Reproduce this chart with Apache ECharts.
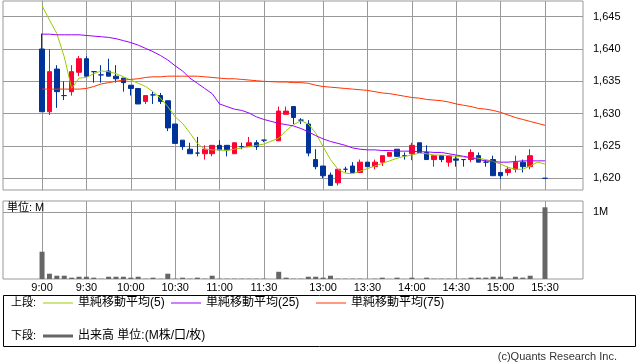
<!DOCTYPE html>
<html><head><meta charset="utf-8">
<script src="https://cdn.jsdelivr.net/npm/echarts@6/dist/echarts.min.js"></script>
<style>html,body{margin:0;padding:0;background:#fff}#c{width:638px;height:362px}</style>
</head><body><div id="c"></div>
<script>
// slot index: 0 = 9:00 (5-minute bars), 31 = lunch gap, 32 = 12:30, 67 = 15:25 (no trade), 68 = 15:30
const tickSlots  = [0, 6, 12, 18, 24, 30, 38, 44, 50, 56, 62, 68];
const tickLabels = ['9:00','9:30','10:00','10:30','11:00','11:30','13:00','13:30','14:00','14:30','15:00','15:30'];
const priceTicks = [1620, 1625, 1630, 1635, 1640, 1645];
const volumeTicks = [1];

const openP = [1640.0,1630.3,1636.9,1632.8,1633.4,1636.4,1638.5,1636.5,1636.0,1636.6,1635.8,1635.5,1634.4,1633.9,1631.9,1632.9,1632.8,1632.0,1628.4,1625.9,1624.5,1623.9,1623.8,1623.8,1625.1,1625.1,1623.8,1624.9,1624.9,1625.5,1625.9,null,
  1625.8,1629.9,1631.1,1629.0,1628.4,1622.9,1621.9,1620.5,1619.3,1621.4,1621.9,1620.9,1622.5,1621.8,1622.5,1623.4,1624.5,1623.5,1623.8,1625.5,1624.0,1622.9,1623.5,1622.5,1623.0,1622.9,1622.9,1623.5,1622.5,1622.9,1620.9,1620.9,1621.4,1622.5,1621.8,null,1620.0];
const closeP = [1630.3,1636.5,1633.4,1632.8,1636.5,1638.5,1635.8,1636.5,1636.0,1635.8,1635.4,1634.8,1633.9,1631.5,1632.8,1632.9,1631.9,1627.8,1625.4,1624.9,1623.8,1623.9,1624.5,1625.1,1624.4,1624.4,1625.5,1624.9,1625.5,1624.9,1625.9,null,
  1630.4,1630.4,1629.4,1629.0,1623.9,1621.8,1620.4,1618.9,1621.4,1621.4,1620.9,1622.5,1621.8,1622.5,1623.5,1624.0,1623.4,1623.5,1625.1,1624.0,1622.9,1623.5,1622.9,1623.5,1622.8,1622.9,1624.0,1622.5,1622.5,1620.4,1620.4,1621.4,1622.5,1621.8,1623.5,null,1620.0];
const lowP = [1630.3,1629.8,1630.9,1632.1,1632.8,1635.8,1635.8,1634.8,1634.8,1635.8,1634.8,1633.4,1632.8,1631.5,1631.5,1631.5,1631.5,1627.3,1625.4,1624.4,1623.8,1623.4,1622.9,1623.4,1624.4,1623.4,1623.8,1624.5,1624.9,1624.4,1625.6,null,
  1625.8,1629.9,1628.4,1628.4,1623.4,1621.4,1620.0,1618.9,1618.9,1620.9,1620.9,1620.9,1621.8,1621.4,1621.9,1623.4,1623.4,1622.9,1622.8,1624.0,1622.9,1621.8,1622.5,1621.8,1621.8,1621.8,1622.5,1622.5,1621.8,1620.4,1619.9,1620.4,1620.9,1620.9,1621.4,null,1620.0];
const highP = [1642.4,1640.0,1637.5,1635.0,1637.5,1638.9,1638.9,1636.5,1637.5,1638.5,1637.5,1635.5,1634.4,1633.9,1632.8,1633.4,1633.2,1632.0,1628.4,1625.9,1625.5,1626.4,1625.1,1625.1,1625.9,1625.1,1625.5,1625.5,1626.4,1625.9,1625.9,null,
  1631.1,1631.1,1631.1,1629.3,1629.0,1624.5,1621.9,1620.9,1621.4,1621.8,1622.5,1622.9,1622.5,1622.9,1623.5,1624.0,1624.5,1624.0,1625.5,1625.5,1625.1,1623.5,1623.5,1623.5,1623.5,1622.9,1624.5,1624.0,1622.9,1623.5,1620.9,1621.8,1623.5,1622.9,1624.5,null,1620.0];

const ma5 = [1646.7,1644.5,1642.4,1638.8,1633.9,1635.5,1635.6,1636.2,1636.6,1636.5,1636.2,1635.7,1635.2,1634.7,1634.2,1633.4,1632.4,1631.1,1629.5,1628.5,1627.0,1625.4,1624.5,1624.4,1624.4,1624.3,1624.5,1624.7,1624.9,1625.1,1625.3,null,
  1626.2,1627.4,1628.3,1628.9,1628.4,1627.0,1624.9,1622.9,1621.4,1620.8,1620.7,1621.1,1621.5,1621.9,1622.3,1622.7,1623.1,1623.4,1623.6,1623.9,1623.8,1623.6,1623.6,1623.5,1623.4,1623.3,1623.2,1623.1,1622.9,1622.6,1622.2,1621.7,1621.4,1621.4,1621.9,1622.5,1622.2];
const ma25 = [1642.3,1642.3,1642.2,1642.2,1642.2,1642.2,1642.1,1642.0,1641.9,1641.8,1641.6,1641.3,1641.0,1640.6,1640.1,1639.6,1639.0,1638.3,1637.4,1636.6,1635.5,1634.7,1633.9,1633.1,1631.5,1631.1,1630.7,1630.5,1630.1,1629.5,1629.1,null,
  1628.5,1628.3,1628.1,1627.7,1627.2,1626.6,1626.1,1625.7,1625.4,1625.1,1624.7,1624.5,1624.4,1624.4,1624.3,1624.3,1624.2,1624.2,1624.2,1624.1,1624.1,1624.0,1624.0,1623.8,1623.6,1623.4,1623.2,1622.9,1622.7,1622.6,1622.5,1622.5,1622.6,1622.7,1622.7,1622.7,1622.7];
const ma75 = [1633.8,1633.8,1633.8,1633.8,1633.8,1633.8,1633.9,1634.2,1634.6,1634.8,1635.0,1635.2,1635.3,1635.4,1635.6,1635.7,1635.7,1635.8,1635.8,1635.8,1635.8,1635.8,1635.7,1635.6,1635.5,1635.4,1635.4,1635.3,1635.2,1635.1,1635.0,null,
  1634.9,1634.9,1634.8,1634.8,1634.7,1634.4,1634.2,1634.1,1634.0,1633.9,1633.8,1633.7,1633.6,1633.4,1633.2,1633.1,1632.9,1632.7,1632.5,1632.4,1632.2,1632.1,1632.0,1631.8,1631.5,1631.3,1631.1,1630.8,1630.7,1630.5,1630.2,1629.8,1629.4,1629.1,1628.8,1628.5,1628.2];
const volumeM = [0.407,0.079,0.049,0.049,0.020,0.034,0.034,0.020,0.005,0.034,0.034,0.034,0.020,0.034,0.005,0.020,0.003,0.079,0.005,0.020,0.005,0.020,0.005,0.049,0.005,0.005,0.005,0.005,0.005,0.005,0.005,null,
  0.108,0.020,0.005,0.005,0.034,0.034,0.020,0.049,0.005,0.005,0.005,0.005,0.002,0.005,0.020,0.002,0.020,0.002,0.020,0.002,0.020,0.005,0.005,0.005,0.005,0.005,0.020,0.020,0.020,0.034,0.034,0.005,0.034,0.020,0.049,null,1.07];

const FONT = "'Liberation Sans','Noto Sans CJK JP',sans-serif";
const GRID = '#999';

const candleData = [];
openP.forEach((o, i) => { if (o !== null) candleData.push([i, o, closeP[i], lowP[i], highP[i]]); });
const pair = arr => arr.map((v, i) => [i, v]);
const volData = [];
volumeM.forEach((v, i) => { if (v !== null) volData.push([i, v]); });
const tickMap = {};
tickSlots.forEach((s, k) => tickMap[s] = tickLabels[k]);
const fmtPrice = v => String(Math.round(v)).replace(/\B(?=(\d{3})+(?!\d))/g, ',');

const XMIN = -5.28, XMAX = 73.14;

const chart = echarts.init(document.getElementById('c'), null, {renderer: 'canvas'});
const lineSeries = (name, data, color) => ({
  name, type: 'line', xAxisIndex: 0, yAxisIndex: 0, data: pair(data), connectNulls: true,
  showSymbol: false, symbol: 'none', color, lineStyle: {color, width: 1}, z: 4, silent: true, animation: false
});
const legendBase = {padding: 0, itemWidth: 30, itemGap: 0, icon: 'rect', selectedMode: false,
  textStyle: {fontSize: 12, color: '#000', fontFamily: FONT}};

chart.setOption({
  animation: false,
  textStyle: {fontFamily: FONT},
  grid: [
    {left: 3, top: 1, width: 580, height: 189, show: true, borderColor: GRID, borderWidth: 1},
    {left: 3, top: 201, width: 580, height: 78, show: true, borderColor: GRID, borderWidth: 1}
  ],
  xAxis: [
    {type: 'value', gridIndex: 0, min: XMIN, max: XMAX,
     axisLine: {show: false}, axisTick: {show: false, customValues: tickSlots},
     axisLabel: {show: false, customValues: tickSlots},
     splitLine: {show: true, lineStyle: {color: GRID, width: 1}}},
    {type: 'value', gridIndex: 1, min: XMIN, max: XMAX,
     axisLine: {show: false}, axisTick: {show: false, customValues: tickSlots},
     axisLabel: {show: true, customValues: tickSlots, formatter: v => tickMap[v] || '', margin: 3,
                 fontSize: 11, color: '#000', fontFamily: FONT},
     splitLine: {show: true, lineStyle: {color: GRID, width: 1}}}
  ],
  yAxis: [
    {type: 'value', gridIndex: 0, position: 'right', min: 1618.19, max: 1647.43,
     axisLine: {show: true, lineStyle: {color: GRID}},
     axisTick: {show: true, length: 5, customValues: priceTicks, lineStyle: {color: GRID}},
     axisLabel: {customValues: priceTicks, formatter: fmtPrice, margin: 10, fontSize: 11, color: '#000', fontFamily: FONT},
     splitLine: {show: true, lineStyle: {color: GRID, width: 1}}},
    {type: 'value', gridIndex: 1, position: 'right', min: 0, max: 1.164,
     axisLine: {show: true, lineStyle: {color: GRID}},
     axisTick: {show: true, length: 5, customValues: volumeTicks, lineStyle: {color: GRID}},
     axisLabel: {customValues: volumeTicks, formatter: v => v + 'M', margin: 10, fontSize: 11, color: '#000', fontFamily: FONT},
     splitLine: {show: true, lineStyle: {color: GRID, width: 1}}}
  ],
  legend: [
    Object.assign({}, legendBase, {left: 43, top: 297, itemHeight: 1, data: ['単純移動平均(5)']}),
    Object.assign({}, legendBase, {left: 171, top: 297, itemHeight: 1, data: ['単純移動平均(25)']}),
    Object.assign({}, legendBase, {left: 316, top: 297, itemHeight: 1, data: ['単純移動平均(75)']}),
    Object.assign({}, legendBase, {left: 43, top: 330, itemHeight: 3, data: ['出来高 単位:(M株/口/枚)']})
  ],
  graphic: [
    {type: 'rect', silent: true, shape: {x: 3.5, y: 295.5, width: 632, height: 51}, style: {fill: 'none', stroke: '#000', lineWidth: 1}},
    {type: 'text', silent: true, x: 11, y: 303, style: {text: '上段:', font: '11px ' + FONT, fill: '#000', verticalAlign: 'middle'}},
    {type: 'text', silent: true, x: 11, y: 336, style: {text: '下段:', font: '11px ' + FONT, fill: '#000', verticalAlign: 'middle'}},
    {type: 'text', silent: true, x: 7, y: 208, z: 10, style: {text: '単位: M', font: '11px ' + FONT, fill: '#000', verticalAlign: 'middle'}},
    {type: 'text', silent: true, x: 617, y: 357, style: {text: '(c)Quants Research Inc.', font: '11px ' + FONT, fill: '#333', align: 'right', verticalAlign: 'middle'}}
  ],
  series: [
    {name: '株価', type: 'candlestick', xAxisIndex: 0, yAxisIndex: 0, data: candleData,
     encode: {x: 0, y: [1, 2, 3, 4]}, barWidth: 5, z: 3, silent: true,
     itemStyle: {color: '#ff0033', color0: '#003399', borderColor: '#ff0033', borderColor0: '#003399',
                 borderColorDoji: '#003399', borderWidth: 1}},
    lineSeries('単純移動平均(5)', ma5, '#99cc00'),
    lineSeries('単純移動平均(25)', ma25, '#9900ff'),
    lineSeries('単純移動平均(75)', ma75, '#ff3300'),
    {name: '出来高 単位:(M株/口/枚)', type: 'bar', xAxisIndex: 1, yAxisIndex: 1, data: volData,
     barWidth: 5, color: '#666666', itemStyle: {color: '#666666'}, silent: true}
  ]
});
</script></body></html>
